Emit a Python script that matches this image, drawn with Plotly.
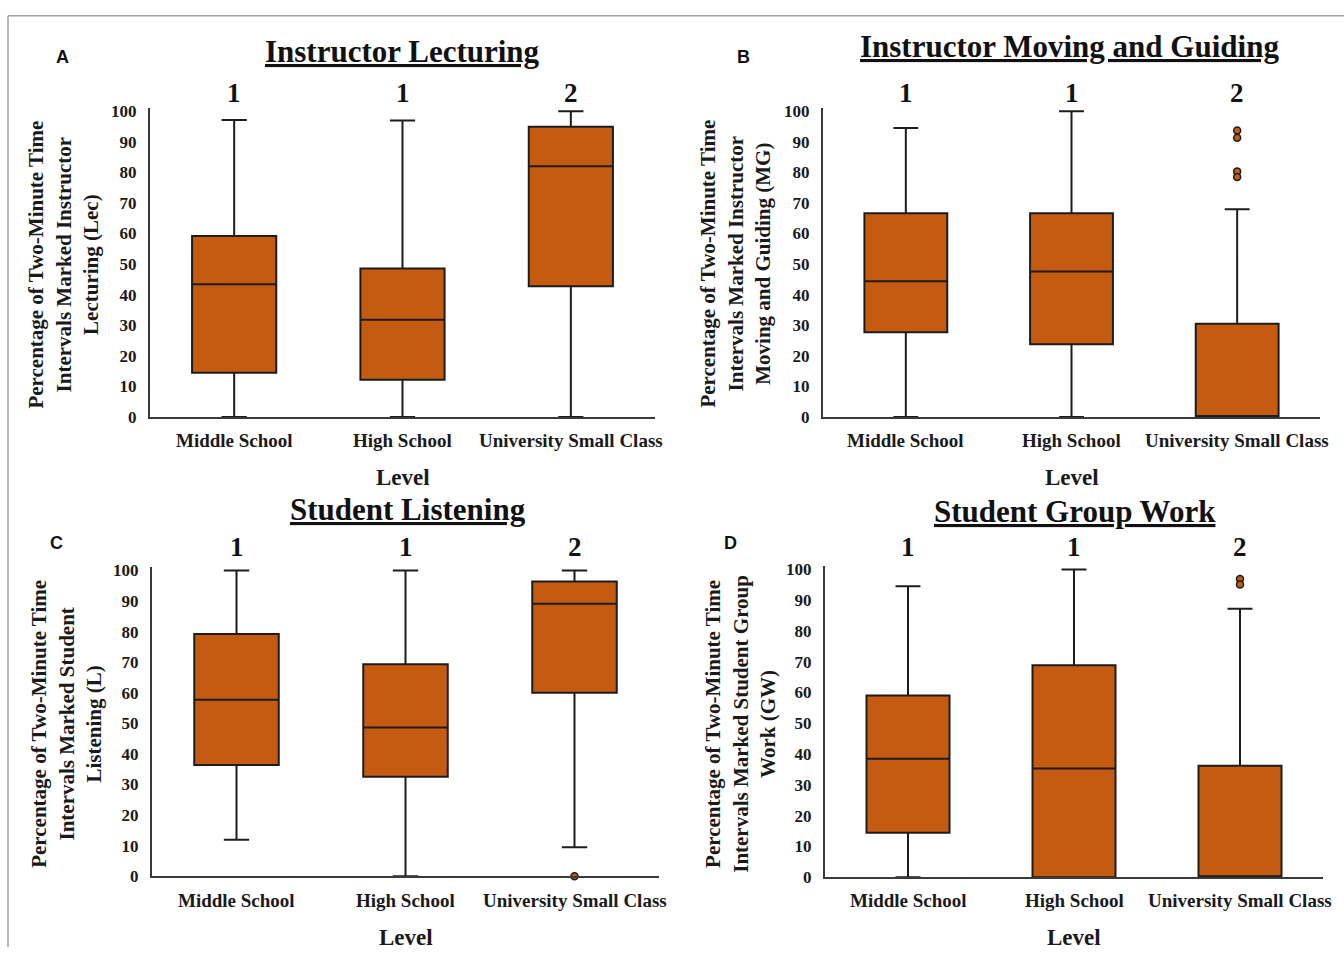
import plotly.graph_objects as go

W, H = 1344, 957

levels = ["Middle School", "High School", "University Small Class"]
groups = ["1", "1", "2"]

# Instructor Lecturing (Lec)
lec_q1 = [14.5, 12.2, 42.8]
lec_med = [43.4, 31.8, 82.0]
lec_q3 = [59.2, 48.6, 94.9]
lec_lo = [0.0, 0.0, 0.0]
lec_hi = [97.1, 97.0, 100.0]
lec_out = []

# Instructor Moving and Guiding (MG)
mg_q1 = [27.7, 23.8, 0.0]
mg_med = [44.4, 47.6, 0.0]
mg_q3 = [66.6, 66.6, 30.5]
mg_lo = [0.0, 0.0, 0.0]
mg_hi = [94.5, 100.0, 67.9]
mg_out = [93.7, 91.3, 80.3, 78.5]

# Student Listening (L)
l_q1 = [36.4, 32.5, 60.0]
l_med = [57.7, 48.6, 89.1]
l_q3 = [79.2, 69.3, 96.4]
l_lo = [11.9, 0.0, 9.5]
l_hi = [100.0, 100.0, 100.0]
l_out = [0.0]

# Student Group Work (GW)
gw_q1 = [14.4, 0.0, 0.0]
gw_med = [38.5, 35.3, 0.0]
gw_q3 = [59.0, 68.9, 36.2]
gw_lo = [0.0, 0.0, 0.0]
gw_hi = [94.5, 100.0, 87.2]
gw_out = [96.9, 95.1]

BOX_FILL = "#C55A11"
EDGE = "#1c1c1c"
AXIS = "#3a3a3a"
SERIF = "Liberation Serif"

panels = [
    dict(letter="A", title="Instructor Lecturing",
         ytitle="Percentage of Two-Minute Time<br>Intervals Marked Instructor<br>Lecturing (Lec)",
         q1=lec_q1, med=lec_med, q3=lec_q3, lo=lec_lo, hi=lec_hi, out=lec_out,
         x0=150, x1=655, p0=418, p100=107,
         letter_xy=(62, 52), title_xy=(402, 46), ytitle_xy=(64, 263),
         group_y=88, ticklab_y=442, level_y=480),
    dict(letter="B", title="Instructor Moving and Guiding",
         ytitle="Percentage of Two-Minute Time<br>Intervals Marked Instructor<br>Moving and Guiding (MG)",
         q1=mg_q1, med=mg_med, q3=mg_q3, lo=mg_lo, hi=mg_hi, out=mg_out,
         x0=823, x1=1320, p0=418, p100=107,
         letter_xy=(743, 52), title_xy=(1069, 41), ytitle_xy=(736, 262),
         group_y=88, ticklab_y=442, level_y=480),
    dict(letter="C", title="Student Listening",
         ytitle="Percentage of Two-Minute Time<br>Intervals Marked Student<br>Listening (L)",
         q1=l_q1, med=l_med, q3=l_q3, lo=l_lo, hi=l_hi, out=l_out,
         x0=152, x1=659, p0=885, p100=574,
         letter_xy=(56, 546), title_xy=(408, 512), ytitle_xy=(67, 730),
         group_y=550, ticklab_y=910, level_y=947),
    dict(letter="D", title="Student Group Work",
         ytitle="Percentage of Two-Minute Time<br>Intervals Marked Student Group<br>Work (GW)",
         q1=gw_q1, med=gw_med, q3=gw_q3, lo=gw_lo, hi=gw_hi, out=gw_out,
         x0=825, x1=1323, p0=886, p100=573,
         letter_xy=(730, 546), title_xy=(1075, 514), ytitle_xy=(741, 730),
         group_y=550, ticklab_y=910, level_y=947),
]


def px(x):
    return x / W


def py(y):
    return 1 - y / H


YTOP = 101
fig = go.Figure()
annotations = []
shapes = []
layout = {}

for i, p in enumerate(panels, start=1):
    sfx = "" if i == 1 else str(i)
    xa, ya = "x" + sfx, "y" + sfx
    fig.add_trace(go.Box(
        x=levels, q1=p["q1"], median=p["med"], q3=p["q3"],
        lowerfence=p["lo"], upperfence=p["hi"],
        width=0.5, whiskerwidth=0.3, boxpoints=False,
        fillcolor=BOX_FILL, line=dict(color=EDGE, width=2),
        showlegend=False, xaxis=xa, yaxis=ya,
    ))
    if p["out"]:
        fig.add_trace(go.Scatter(
            x=[levels[2]] * len(p["out"]), y=p["out"], mode="markers",
            marker=dict(color=BOX_FILL, size=7, line=dict(color=EDGE, width=1.5)),
            cliponaxis=False, showlegend=False, xaxis=xa, yaxis=ya,
        ))

    s = (p["p0"] - p["p100"]) / 100.0
    ydom = [py(p["p0"]), py(p["p0"] - YTOP * s)]
    layout["xaxis" + sfx] = dict(
        domain=[px(p["x0"]), px(p["x1"])], anchor=ya,
        type="category", categoryorder="array", categoryarray=levels,
        range=[-0.5, 2.5], showline=True, linecolor=AXIS, linewidth=2,
        ticks="", showgrid=False, zeroline=False, showticklabels=False,
    )
    layout["yaxis" + sfx] = dict(
        domain=ydom, anchor=xa, range=[0, YTOP],
        tickvals=list(range(0, 101, 10)), showline=True, linecolor=AXIS,
        linewidth=2, ticks="", showgrid=False, zeroline=False,
        ticklabelstandoff=8,
        tickfont=dict(family=SERIF, size=17, color="#1a1a1a", weight="bold"),
    )

    # category labels and axis title under each panel
    for lv in levels:
        annotations.append(dict(
            text=lv, x=lv, xref=xa, y=py(p["ticklab_y"]), yref="paper",
            showarrow=False, xanchor="center", yanchor="middle",
            font=dict(family=SERIF, size=19, color="#1a1a1a", weight="bold"),
        ))
    annotations.append(dict(
        text="Level", x=1, xref=xa, y=py(p["level_y"]), yref="paper",
        showarrow=False, xanchor="center", yanchor="middle",
        font=dict(family=SERIF, size=23, color="#1a1a1a", weight="bold"),
    ))
    # significance groups above the boxes
    for lv, g in zip(levels, groups):
        annotations.append(dict(
            text=g, x=lv, xref=xa, y=py(p["group_y"]), yref="paper",
            showarrow=False, xanchor="center", yanchor="middle",
            font=dict(family=SERIF, size=27, color="#111111", weight="bold"),
        ))
    # panel title (underlined)
    annotations.append(dict(
        text="<u>" + p["title"] + "</u>",
        x=px(p["title_xy"][0]), y=py(p["title_xy"][1]), xref="paper", yref="paper",
        showarrow=False, xanchor="center", yanchor="middle",
        font=dict(family=SERIF, size=31, color="#111111", weight="bold"),
    ))
    # panel letter
    annotations.append(dict(
        text=p["letter"],
        x=px(p["letter_xy"][0]), y=py(p["letter_xy"][1]), xref="paper", yref="paper",
        showarrow=False, xanchor="center", yanchor="middle",
        font=dict(family="Liberation Sans", size=18, color="#111111", weight="bold"),
    ))
    # rotated y-axis title
    annotations.append(dict(
        text=p["ytitle"], textangle=-90,
        x=px(p["ytitle_xy"][0]), y=py(p["ytitle_xy"][1]), xref="paper", yref="paper",
        showarrow=False, xanchor="center", yanchor="middle",
        font=dict(family=SERIF, size=21, color="#1a1a1a", weight="bold"),
    ))

# thin frame along the top and left edge
shapes.append(dict(type="line", xref="paper", yref="paper",
                   x0=px(8), x1=1, y0=py(10), y1=py(10),
                   line=dict(color="#a0a0a0", width=1.5)))
shapes.append(dict(type="line", xref="paper", yref="paper",
                   x0=px(8), x1=px(8), y0=py(10), y1=0,
                   line=dict(color="#a0a0a0", width=1.5)))

fig.update_layout(
    width=W, height=H, autosize=False,
    margin=dict(l=0, r=0, t=0, b=0),
    paper_bgcolor="white", plot_bgcolor="white",
    annotations=annotations, shapes=shapes,
    **layout,
)

fig.write_html("out.html")
